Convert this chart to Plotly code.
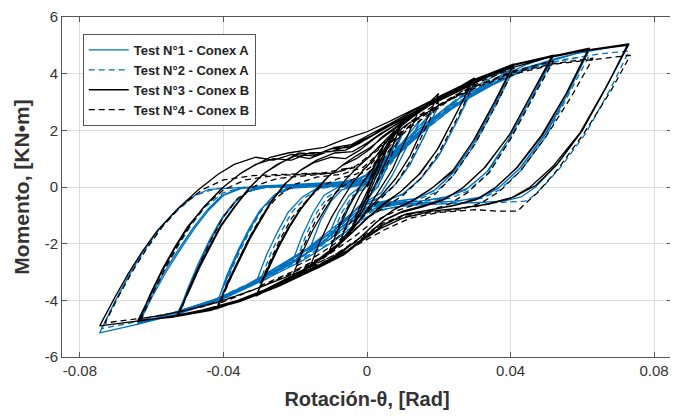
import plotly.graph_objects as go

# ---- data: (rotation [rad], moment [kN·m]) vertices of each hysteresis path ----
T1_path = [  # Test N°1 - Conex A (blue solid)
    (0, 0), (0.003, 0.6), (0.0075, 1.5), (0.004, 0.4), (0.001, -0.3), (-0.003, -0.8), (-0.008, -1.4),
    (-0.005, -0.6), (-0.002, -0.1), (0.002, 0.4), (0.006, 1.1), (0.010, 1.9),
    (0.006, 0.8), (0.003, 0.0), (0.0, -0.4), (-0.004, -0.9), (-0.008, -1.4), (-0.011, -1.8),
    (-0.008, -0.9), (-0.005, -0.3), (-0.002, 0.0), (0.002, 0.3), (0.006, 0.9), (0.010, 1.6), (0.015, 2.4),
    (0.011, 1.4), (0.007, 0.4), (0.004, -0.2), (0.0, -0.5), (-0.004, -0.9), (-0.009, -1.5), (-0.013, -1.9), (-0.016, -2.2),
    (-0.013, -1.2), (-0.010, -0.5), (-0.007, -0.1), (-0.003, 0.05), (0.001, 0.2), (0.006, 0.9), (0.012, 1.8), (0.020, 2.9),
    (0.016, 1.8), (0.012, 0.8), (0.008, 0.1), (0.004, -0.35), (0.0, -0.55), (-0.004, -0.9), (-0.010, -1.5), (-0.016, -2.1), (-0.021, -2.7),
    (-0.018, -1.7), (-0.015, -0.9), (-0.012, -0.3), (-0.008, 0.0), (-0.003, 0.05), (0.001, 0.2), (0.006, 0.8), (0.012, 1.6), (0.020, 2.5), (0.030, 3.6),
    (0.025, 2.3), (0.020, 1.1), (0.015, 0.3), (0.010, -0.25), (0.005, -0.5), (0.0, -0.6), (-0.005, -1.1), (-0.012, -1.8), (-0.019, -2.4), (-0.025, -2.9), (-0.031, -3.4),
    (-0.028, -2.4), (-0.025, -1.6), (-0.022, -0.9), (-0.018, -0.35), (-0.014, -0.05), (-0.008, 0.05), (-0.003, 0.1), (0.001, 0.3), (0.007, 1.0), (0.014, 1.9), (0.022, 2.8), (0.031, 3.6), (0.041, 4.3),
    (0.036, 3.0), (0.030, 1.6), (0.024, 0.5), (0.019, -0.1), (0.014, -0.4), (0.008, -0.5), (0.002, -0.6), (-0.003, -0.9), (-0.009, -1.5), (-0.017, -2.2), (-0.026, -2.9), (-0.034, -3.5), (-0.042, -4.1),
    (-0.0385, -3.05), (-0.0355, -2.2), (-0.0325, -1.45), (-0.0295, -0.8), (-0.0255, -0.25), (-0.021, 0.05), (-0.014, 0.1), (-0.007, 0.15), (-0.001, 0.25), (0.004, 0.7), (0.011, 1.5), (0.019, 2.4), (0.028, 3.2), (0.036, 3.85), (0.0405, 4.2),
    (0.0355, 2.9), (0.0295, 1.5), (0.0235, 0.45), (0.0185, -0.15), (0.0135, -0.42), (0.0075, -0.52), (0.0015, -0.65), (-0.0035, -0.95), (-0.0095, -1.55), (-0.0175, -2.25), (-0.0265, -2.95), (-0.0345, -3.55), (-0.0415, -4.0),
    (-0.039, -3.1), (-0.036, -2.25), (-0.033, -1.5), (-0.030, -0.85), (-0.026, -0.3), (-0.022, -0.05), (-0.015, 0.0), (-0.008, 0.05), (-0.002, 0.1), (0.002, 0.4), (0.009, 1.2), (0.017, 2.1), (0.026, 3.0), (0.036, 3.8), (0.044, 4.3), (0.052, 4.65),
    (0.046, 3.2), (0.040, 1.8), (0.034, 0.6), (0.028, -0.05), (0.022, -0.35), (0.015, -0.5), (0.008, -0.55), (0.002, -0.65), (-0.004, -1.1), (-0.011, -1.8), (-0.020, -2.6), (-0.030, -3.3), (-0.041, -3.95), (-0.053, -4.5),
    (-0.0495, -3.55), (-0.0465, -2.65), (-0.0435, -1.85), (-0.0405, -1.15), (-0.0365, -0.5), (-0.0325, -0.1), (-0.027, 0.05), (-0.019, 0.1), (-0.011, 0.15), (-0.004, 0.2), (0.001, 0.5), (0.007, 1.1), (0.015, 2.0), (0.024, 2.85), (0.034, 3.6), (0.044, 4.15), (0.0515, 4.45),
    (0.0455, 3.1), (0.0395, 1.7), (0.0335, 0.55), (0.0275, -0.1), (0.0215, -0.38), (0.0145, -0.5), (0.0075, -0.58), (0.0015, -0.7), (-0.0045, -1.15), (-0.0115, -1.85), (-0.0205, -2.65), (-0.0305, -3.35), (-0.0415, -4.0), (-0.0525, -4.45),
    (-0.050, -3.6), (-0.047, -2.7), (-0.044, -1.9), (-0.041, -1.2), (-0.037, -0.55), (-0.033, -0.15), (-0.028, 0.0), (-0.020, 0.02), (-0.012, 0.05), (-0.005, 0.1), (0.0, 0.3), (0.006, 0.9), (0.014, 1.8), (0.023, 2.7), (0.033, 3.5), (0.043, 4.1), (0.052, 4.5), (0.062, 4.85),
    (0.056, 3.3), (0.050, 1.9), (0.043, 0.7), (0.037, 0.0), (0.032, -0.35), (0.025, -0.5), (0.017, -0.55), (0.009, -0.6), (0.003, -0.7), (-0.003, -1.1), (-0.010, -1.8), (-0.019, -2.5), (-0.030, -3.25), (-0.042, -3.95), (-0.053, -4.4), (-0.064, -4.85),
    (-0.0605, -3.9), (-0.0565, -3.0), (-0.0525, -2.2), (-0.0485, -1.45), (-0.0445, -0.8), (-0.0405, -0.3), (-0.0355, -0.05), (-0.028, 0.05), (-0.019, 0.08), (-0.011, 0.1), (-0.005, 0.15), (0.0, 0.45), (0.007, 1.2), (0.015, 2.1), (0.024, 3.0), (0.034, 3.7), (0.044, 4.2), (0.053, 4.55), (0.0615, 4.8),
    (0.0555, 3.2), (0.0495, 1.85), (0.0425, 0.65), (0.0365, -0.05), (0.0315, -0.38), (0.0245, -0.5), (0.0165, -0.55), (0.0085, -0.62), (0.0025, -0.75), (-0.0035, -1.15), (-0.0105, -1.85), (-0.0195, -2.55), (-0.0305, -3.3), (-0.0425, -4.0), (-0.0535, -4.45), (-0.0635, -4.8),
    (-0.060, -3.9), (-0.056, -3.0), (-0.052, -2.2), (-0.048, -1.45), (-0.044, -0.8), (-0.040, -0.3), (-0.035, -0.05), (-0.027, 0.0), (-0.018, 0.0), (-0.010, 0.05), (-0.004, 0.1), (0.001, 0.35), (0.008, 1.1), (0.016, 2.0), (0.025, 2.9), (0.035, 3.6), (0.046, 4.25), (0.058, 4.7), (0.073, 5.05),
    (0.067, 3.6), (0.060, 2.0), (0.053, 0.8), (0.047, 0.0), (0.043, -0.35), (0.038, -0.5), (0.030, -0.55), (0.020, -0.6), (0.011, -0.65), (0.004, -0.8), (-0.002, -1.2), (-0.009, -1.9), (-0.018, -2.6), (-0.029, -3.3), (-0.041, -4.0), (-0.053, -4.5), (-0.064, -4.85), (-0.0745, -5.15),
    (-0.0705, -4.1), (-0.0665, -3.15), (-0.0625, -2.3), (-0.058, -1.5), (-0.053, -0.8), (-0.048, -0.3), (-0.044, -0.08), (-0.035, -0.02), (-0.025, 0.02), (-0.015, 0.05), (-0.006, 0.1), (0.0, 0.4),
]

T2_path = [  # Test N°2 - Conex A (blue dashed)
    (0, 0), (0.004, 0.7), (0.010, 1.9), (0.006, 0.8), (0.003, 0.0), (0.0, -0.4), (-0.004, -0.9), (-0.010, -1.8),
    (-0.007, -0.9), (-0.004, -0.3), (0.0, 0.0), (0.004, 0.4), (0.009, 1.2), (0.014, 2.0), (0.020, 2.9),
    (0.016, 1.8), (0.012, 0.8), (0.008, 0.1), (0.004, -0.35), (0.0, -0.6), (-0.005, -1.2), (-0.010, -1.8), (-0.015, -2.3), (-0.020, -2.7),
    (-0.017, -1.7), (-0.014, -0.9), (-0.011, -0.35), (-0.007, -0.05), (-0.002, 0.05), (0.002, 0.3), (0.008, 1.1), (0.015, 2.0), (0.022, 2.8), (0.030, 3.6),
    (0.025, 2.3), (0.020, 1.1), (0.015, 0.3), (0.010, -0.25), (0.005, -0.5), (0.0, -0.65), (-0.006, -1.3), (-0.013, -2.0), (-0.021, -2.7), (-0.030, -3.4),
    (-0.027, -2.4), (-0.024, -1.6), (-0.021, -0.9), (-0.017, -0.35), (-0.013, -0.05), (-0.007, 0.05), (-0.002, 0.1), (0.002, 0.35), (0.009, 1.2), (0.017, 2.1), (0.025, 2.9), (0.033, 3.6), (0.041, 4.2),
    (0.036, 2.9), (0.030, 1.5), (0.024, 0.4), (0.019, -0.2), (0.014, -0.45), (0.008, -0.55), (0.002, -0.65), (-0.004, -1.1), (-0.011, -1.8), (-0.020, -2.5), (-0.030, -3.2), (-0.041, -4.0),
    (-0.038, -3.0), (-0.035, -2.15), (-0.032, -1.4), (-0.029, -0.75), (-0.025, -0.25), (-0.020, 0.0), (-0.013, 0.05), (-0.006, 0.1), (-0.001, 0.2), (0.004, 0.7), (0.012, 1.7), (0.021, 2.6), (0.031, 3.4), (0.041, 4.0), (0.052, 4.5),
    (0.046, 3.1), (0.040, 1.7), (0.034, 0.5), (0.028, -0.15), (0.023, -0.4), (0.016, -0.5), (0.009, -0.55), (0.003, -0.65), (-0.003, -1.1), (-0.010, -1.8), (-0.020, -2.6), (-0.031, -3.3), (-0.042, -3.95), (-0.052, -4.4),
    (-0.049, -3.4), (-0.046, -2.5), (-0.043, -1.7), (-0.040, -1.0), (-0.036, -0.4), (-0.031, -0.05), (-0.024, 0.0), (-0.015, 0.05), (-0.007, 0.1), (-0.001, 0.25), (0.005, 0.9), (0.013, 1.8), (0.022, 2.7), (0.032, 3.5), (0.042, 4.05), (0.052, 4.4), (0.062, 4.65),
    (0.056, 3.2), (0.050, 1.8), (0.043, 0.6), (0.037, -0.1), (0.032, -0.4), (0.025, -0.5), (0.017, -0.55), (0.009, -0.6), (0.003, -0.75), (-0.003, -1.2), (-0.011, -1.9), (-0.021, -2.7), (-0.032, -3.4), (-0.043, -4.0), (-0.053, -4.4), (-0.063, -4.7),
    (-0.0595, -3.75), (-0.056, -2.85), (-0.0525, -2.05), (-0.049, -1.35), (-0.045, -0.7), (-0.040, -0.2), (-0.034, 0.0), (-0.025, 0.05), (-0.016, 0.05), (-0.008, 0.1), (-0.002, 0.25), (0.004, 0.9), (0.012, 1.8), (0.022, 2.75), (0.033, 3.55), (0.044, 4.15), (0.055, 4.5), (0.065, 4.7), (0.073, 4.8),
    (0.068, 3.5), (0.061, 1.9), (0.054, 0.7), (0.049, 0.0), (0.046, -0.35), (0.044, -0.5), (0.036, -0.55), (0.026, -0.55), (0.016, -0.6), (0.008, -0.7), (0.002, -0.9), (-0.004, -1.4), (-0.012, -2.1), (-0.022, -2.8), (-0.034, -3.55), (-0.047, -4.2), (-0.060, -4.65), (-0.074, -5.0),
    (-0.070, -4.0), (-0.066, -3.05), (-0.062, -2.25), (-0.058, -1.5), (-0.053, -0.85), (-0.048, -0.3), (-0.042, -0.05), (-0.032, 0.0), (-0.020, 0.05), (-0.010, 0.1), (-0.003, 0.3),
]

T3_path = [  # Test N°3 - Conex B (black solid)
    (0, 0), (0.002, 0.7), (0.005, 1.6), (0.002, 0.4), (0.0, -0.3), (-0.002, -0.9), (-0.005, -1.7),
    (-0.002, -0.7), (0.001, 0.1), (0.004, 1.0), (0.0075, 2.0),
    (0.004, 0.8), (0.001, -0.1), (-0.002, -0.9), (-0.005, -1.6), (-0.008, -2.1),
    (-0.005, -1.1), (-0.002, -0.3), (0.001, 0.3), (0.004, 1.0), (0.007, 1.7), (0.010, 2.35),
    (0.006, 1.1), (0.002, 0.0), (-0.001, -0.8), (-0.004, -1.4), (-0.008, -2.0), (-0.011, -2.4),
    (-0.008, -1.5), (-0.005, -0.7), (-0.002, 0.0), (0.001, 0.55), (0.003, 0.9), (0.006, 1.6), (0.010, 2.2), (0.015, 2.85),
    (0.011, 1.7), (0.007, 0.6), (0.003, -0.2), (0.0, -0.8), (-0.004, -1.5), (-0.008, -2.0), (-0.012, -2.45), (-0.016, -2.85),
    (-0.013, -1.9), (-0.010, -1.1), (-0.007, -0.45), (-0.004, 0.15), (-0.001, 0.6), (0.002, 1.0), (0.006, 1.7), (0.010, 2.2), (0.015, 2.7), (0.020, 3.3),
    (0.016, 2.2), (0.012, 1.1), (0.008, 0.3), (0.004, -0.3), (0.001, -0.7), (-0.003, -1.3), (-0.008, -2.0), (-0.013, -2.5), (-0.017, -2.85), (-0.021, -3.2),
    (-0.018, -2.3), (-0.015, -1.5), (-0.012, -0.85), (-0.009, -0.25), (-0.006, 0.25), (-0.003, 0.65), (0.0, 1.0), (0.003, 1.4), (0.007, 1.9), (0.013, 2.5), (0.020, 3.1), (0.030, 3.85),
    (0.025, 2.6), (0.020, 1.4), (0.015, 0.5), (0.010, -0.1), (0.005, -0.6), (0.001, -1.0), (-0.004, -1.6), (-0.010, -2.3), (-0.017, -2.9), (-0.024, -3.4), (-0.031, -3.85),
    (-0.0275, -2.9), (-0.0245, -2.1), (-0.0215, -1.4), (-0.0185, -0.8), (-0.0145, -0.15), (-0.0105, 0.4), (-0.0065, 0.8), (-0.003, 1.1), (0.001, 1.4), (0.005, 1.8), (0.011, 2.35), (0.018, 2.95), (0.024, 3.35), (0.0295, 3.75),
    (0.0245, 2.5), (0.0195, 1.3), (0.0145, 0.45), (0.0095, -0.15), (0.0045, -0.6), (0.0, -1.1), (-0.005, -1.7), (-0.011, -2.35), (-0.018, -2.95), (-0.025, -3.4), (-0.0305, -3.75),
    (-0.028, -2.95), (-0.025, -2.15), (-0.022, -1.45), (-0.019, -0.85), (-0.015, -0.2), (-0.011, 0.35), (-0.007, 0.75), (-0.003, 1.0), (0.001, 1.35), (0.004, 1.75), (0.010, 2.3), (0.017, 2.9), (0.024, 3.4), (0.032, 3.9), (0.041, 4.35),
    (0.036, 3.1), (0.030, 1.7), (0.024, 0.6), (0.018, -0.05), (0.013, -0.45), (0.008, -0.75), (0.003, -1.2), (-0.002, -1.8), (-0.008, -2.4), (-0.016, -2.95), (-0.025, -3.5), (-0.034, -3.95), (-0.042, -4.3),
    (-0.0385, -3.35), (-0.0355, -2.55), (-0.0325, -1.8), (-0.0295, -1.15), (-0.0265, -0.5), (-0.0225, 0.15), (-0.0185, 0.6), (-0.014, 0.95), (-0.009, 1.2), (-0.004, 1.25), (0.0, 1.55), (0.004, 1.9), (0.010, 2.35), (0.017, 2.85), (0.025, 3.35), (0.033, 3.85), (0.0405, 4.25),
    (0.0355, 3.0), (0.0295, 1.6), (0.0235, 0.5), (0.0175, -0.1), (0.0125, -0.5), (0.0075, -0.8), (0.0025, -1.25), (-0.0025, -1.85), (-0.009, -2.45), (-0.017, -3.0), (-0.026, -3.55), (-0.035, -4.0), (-0.0415, -4.25),
    (-0.039, -3.4), (-0.036, -2.6), (-0.033, -1.85), (-0.030, -1.2), (-0.027, -0.55), (-0.023, 0.1), (-0.019, 0.55), (-0.015, 0.85), (-0.010, 1.05), (-0.006, 1.0), (-0.002, 1.3), (0.002, 1.7), (0.008, 2.2), (0.015, 2.75), (0.022, 3.25), (0.030, 3.8), (0.041, 4.3), (0.052, 4.65),
    (0.046, 3.3), (0.040, 1.9), (0.033, 0.7), (0.027, 0.0), (0.022, -0.4), (0.016, -0.65), (0.010, -0.85), (0.005, -1.15), (0.0, -1.7), (-0.006, -2.3), (-0.014, -2.85), (-0.024, -3.45), (-0.035, -4.0), (-0.045, -4.35), (-0.053, -4.55),
    (-0.0495, -3.65), (-0.0465, -2.8), (-0.0435, -2.05), (-0.0405, -1.35), (-0.0365, -0.65), (-0.0325, 0.0), (-0.0285, 0.5), (-0.024, 0.85), (-0.019, 1.2), (-0.014, 1.15), (-0.009, 1.4), (-0.004, 1.5), (0.001, 1.8), (0.006, 2.15), (0.013, 2.65), (0.021, 3.2), (0.030, 3.75), (0.040, 4.2), (0.0515, 4.6),
    (0.0455, 3.2), (0.0395, 1.8), (0.0325, 0.65), (0.0265, -0.05), (0.0215, -0.45), (0.0155, -0.7), (0.0095, -0.9), (0.0045, -1.2), (-0.0005, -1.75), (-0.0065, -2.35), (-0.0145, -2.9), (-0.0245, -3.5), (-0.0355, -4.05), (-0.0455, -4.4), (-0.0525, -4.5),
    (-0.050, -3.7), (-0.047, -2.85), (-0.044, -2.1), (-0.041, -1.4), (-0.037, -0.7), (-0.033, -0.05), (-0.029, 0.45), (-0.025, 0.8), (-0.020, 1.1), (-0.016, 1.0), (-0.011, 1.25), (-0.006, 1.3), (-0.002, 1.55), (0.003, 1.95), (0.009, 2.35), (0.016, 2.85), (0.024, 3.4), (0.032, 3.9), (0.041, 4.3), (0.051, 4.6), (0.062, 4.9),
    (0.056, 3.4), (0.049, 1.85), (0.042, 0.7), (0.036, 0.0), (0.031, -0.4), (0.025, -0.62), (0.018, -0.8), (0.011, -0.95), (0.005, -1.3), (0.0, -1.75), (-0.006, -2.35), (-0.013, -2.8), (-0.022, -3.3), (-0.032, -3.85), (-0.043, -4.3), (-0.054, -4.55), (-0.064, -4.75),
    (-0.0605, -3.85), (-0.057, -2.95), (-0.0535, -2.15), (-0.050, -1.45), (-0.0455, -0.7), (-0.0405, -0.05), (-0.0355, 0.45), (-0.0315, 0.75), (-0.027, 1.05), (-0.022, 1.2), (-0.017, 1.3), (-0.012, 1.4), (-0.006, 1.7), (0.0, 1.95), (0.006, 2.3), (0.014, 2.8), (0.022, 3.3), (0.031, 3.8), (0.041, 4.3), (0.051, 4.6), (0.0615, 4.82),
    (0.0555, 3.3), (0.0485, 1.8), (0.0415, 0.65), (0.0355, -0.05), (0.0305, -0.45), (0.0245, -0.65), (0.0175, -0.82), (0.0105, -0.98), (0.0045, -1.35), (-0.0005, -1.8), (-0.0065, -2.4), (-0.0135, -2.85), (-0.0225, -3.35), (-0.0325, -3.9), (-0.0435, -4.35), (-0.0545, -4.6), (-0.0635, -4.7),
    (-0.0605, -3.8), (-0.057, -2.9), (-0.0535, -2.1), (-0.050, -1.4), (-0.045, -0.65), (-0.040, 0.0), (-0.035, 0.5), (-0.031, 0.8), (-0.026, 1.0), (-0.021, 0.95), (-0.016, 1.2), (-0.010, 1.25), (-0.005, 1.45), (0.0, 1.8), (0.006, 2.2), (0.013, 2.7), (0.021, 3.25), (0.030, 3.8), (0.040, 4.3), (0.051, 4.62), (0.062, 4.85), (0.073, 5.05),
    (0.0665, 3.5), (0.0594, 1.92), (0.052, 0.75), (0.0455, 0.0), (0.040, -0.4), (0.034, -0.6), (0.026, -0.75), (0.018, -0.85), (0.010, -1.1), (0.004, -1.45), (-0.002, -1.95), (-0.008, -2.45), (-0.016, -2.9), (-0.026, -3.5), (-0.036, -4.0), (-0.046, -4.35), (-0.056, -4.6), (-0.065, -4.75), (-0.0745, -4.9),
    (-0.0705, -3.95), (-0.0665, -3.05), (-0.0625, -2.25), (-0.0585, -1.55), (-0.053, -0.8), (-0.047, -0.1), (-0.0415, 0.45), (-0.037, 0.8), (-0.031, 1.05), (-0.026, 0.95), (-0.021, 1.15), (-0.015, 1.1), (-0.010, 1.35), (-0.005, 1.4), (0.0, 1.7), (0.004, 2.0), (0.010, 2.4), (0.020, 3.1), (0.030, 3.7), (0.040, 4.2), (0.050, 4.55), (0.060, 4.8), (0.0725, 5.0),
    (0.067, 3.6), (0.060, 2.0), (0.053, 0.8), (0.047, 0.05), (0.041, -0.35), (0.035, -0.55), (0.030, -0.7),
]

T4_path = [  # Test N°4 - Conex B (black dashed)
    (0, 0), (0.004, 0.9), (0.010, 2.0), (0.006, 0.9), (0.002, 0.0), (-0.002, -0.8), (-0.006, -1.5), (-0.010, -2.0),
    (-0.007, -1.1), (-0.004, -0.4), (-0.001, 0.2), (0.002, 0.8), (0.006, 1.5), (0.012, 2.3), (0.020, 3.0),
    (0.016, 2.0), (0.012, 0.9), (0.008, 0.1), (0.004, -0.4), (0.0, -0.9), (-0.005, -1.6), (-0.010, -2.1), (-0.015, -2.5), (-0.020, -2.8),
    (-0.017, -1.9), (-0.014, -1.1), (-0.011, -0.5), (-0.007, 0.0), (-0.003, 0.35), (0.001, 0.7), (0.006, 1.4), (0.012, 2.1), (0.020, 2.8), (0.030, 3.7),
    (0.025, 2.4), (0.020, 1.2), (0.015, 0.3), (0.010, -0.3), (0.005, -0.7), (0.0, -1.1), (-0.006, -1.8), (-0.013, -2.5), (-0.021, -3.0), (-0.030, -3.5),
    (-0.027, -2.6), (-0.024, -1.8), (-0.021, -1.1), (-0.017, -0.5), (-0.013, 0.0), (-0.008, 0.3), (-0.003, 0.45), (0.001, 0.8), (0.007, 1.6), (0.015, 2.5), (0.024, 3.2), (0.033, 3.8), (0.041, 4.2),
    (0.036, 2.9), (0.030, 1.5), (0.024, 0.4), (0.019, -0.25), (0.014, -0.6), (0.008, -0.85), (0.002, -1.2), (-0.004, -1.8), (-0.012, -2.5), (-0.022, -3.1), (-0.032, -3.65), (-0.041, -4.1),
    (-0.038, -3.2), (-0.035, -2.35), (-0.032, -1.6), (-0.029, -0.95), (-0.025, -0.35), (-0.020, 0.1), (-0.014, 0.35), (-0.007, 0.45), (-0.001, 0.7), (0.005, 1.4), (0.013, 2.3), (0.022, 3.0), (0.031, 3.6), (0.041, 4.1), (0.052, 4.45),
    (0.046, 3.1), (0.040, 1.7), (0.034, 0.5), (0.028, -0.2), (0.023, -0.6), (0.017, -0.85), (0.010, -1.0), (0.004, -1.3), (-0.002, -1.8), (-0.009, -2.4), (-0.018, -2.95), (-0.029, -3.5), (-0.040, -4.0), (-0.052, -4.4),
    (-0.049, -3.45), (-0.046, -2.55), (-0.043, -1.75), (-0.040, -1.05), (-0.036, -0.4), (-0.031, 0.05), (-0.025, 0.3), (-0.017, 0.4), (-0.009, 0.5), (-0.003, 0.7), (0.003, 1.3), (0.011, 2.2), (0.020, 2.9), (0.030, 3.55), (0.041, 4.05), (0.052, 4.35), (0.063, 4.55),
    (0.057, 3.2), (0.050, 1.8), (0.043, 0.6), (0.037, -0.15), (0.032, -0.55), (0.026, -0.8), (0.018, -0.9), (0.010, -1.05), (0.004, -1.35), (-0.002, -1.85), (-0.009, -2.4), (-0.019, -3.0), (-0.030, -3.55), (-0.041, -4.05), (-0.052, -4.4), (-0.063, -4.65),
    (-0.0595, -3.7), (-0.056, -2.8), (-0.0525, -2.0), (-0.049, -1.3), (-0.045, -0.65), (-0.040, -0.1), (-0.034, 0.25), (-0.026, 0.4), (-0.017, 0.45), (-0.009, 0.5), (-0.003, 0.75), (0.003, 1.35), (0.011, 2.2), (0.021, 2.95), (0.032, 3.6), (0.043, 4.05), (0.053, 4.35), (0.063, 4.5), (0.0734, 4.65),
    (0.068, 3.4), (0.0605, 1.9), (0.053, 0.6), (0.0475, -0.2), (0.044, -0.6), (0.042, -0.85), (0.036, -0.85), (0.030, -0.8), (0.020, -0.9), (0.012, -1.1), (0.005, -1.5), (-0.002, -2.0), (-0.010, -2.55), (-0.020, -3.05), (-0.032, -3.65), (-0.045, -4.2), (-0.058, -4.55), (-0.073, -4.8),
    (-0.069, -3.8), (-0.065, -2.9), (-0.061, -2.1), (-0.057, -1.4), (-0.052, -0.7), (-0.046, -0.1), (-0.040, 0.25), (-0.032, 0.4), (-0.022, 0.45), (-0.012, 0.5), (-0.004, 0.7),
]

series_names = ["Test N°1 - Conex A", "Test N°2 - Conex A", "Test N°3 - Conex B", "Test N°4 - Conex B"]
series_colors = ["#0072BD", "#0072BD", "#000000", "#000000"]
series_dash = ["solid", "6px,4px", "solid", "6px,4px"]

x_ticks = [-0.08, -0.04, 0, 0.04, 0.08]
x_tick_labels = ["-0.08", "-0.04", "0", "0.04", "0.08"]
y_ticks = [-6, -4, -2, 0, 2, 4, 6]
y_tick_labels = ["-6", "-4", "-2", "0", "2", "4", "6"]

fig = go.Figure()
for path, name, color, dash in zip([T1_path, T2_path, T3_path, T4_path], series_names, series_colors, series_dash):
    rot = [p[0] for p in path]
    mom = [p[1] for p in path]
    fig.add_trace(go.Scatter(x=rot, y=mom, mode="lines", name="<b>" + name + "</b>",
                             line=dict(color=color, width=1.3, dash=dash)))

font_family = "Liberation Sans, Arial, sans-serif"
axis_common = dict(showgrid=True, gridcolor="#dcdcdc", gridwidth=1, zeroline=False,
                   showline=True, linecolor="#555555", linewidth=1, mirror="ticks",
                   ticks="inside", ticklen=5, tickcolor="#555555", automargin=False,
                   tickprefix="<b>", ticksuffix="</b>", ticklabeloverflow="allow",
                   tickfont=dict(family=font_family, size=15, color="#333333"))

# the page body adds an 8 px offset, so the figure is sized/margined to put the plot area at 62..672 x 17..357
fig.update_layout(
    width=670, height=408,
    margin=dict(l=54, r=6, t=9, b=59, autoexpand=False),
    paper_bgcolor="white", plot_bgcolor="white",
    font=dict(family=font_family, color="#333333"),
    showlegend=True,
    legend=dict(x=0.034, y=0.95, xanchor="left", yanchor="top",
                bgcolor="white", bordercolor="#555555", borderwidth=1,
                font=dict(family=font_family, size=13, color="#222222"),
                tracegroupgap=0, itemwidth=40),
    xaxis=dict(range=[-0.085, 0.085], tickvals=x_ticks, ticktext=x_tick_labels,
               title=dict(text="<b>Rotación-θ, [Rad]</b>", font=dict(family=font_family, size=20, color="#333333"), standoff=13),
               **axis_common),
    yaxis=dict(range=[-6, 6], tickvals=y_ticks, ticktext=y_tick_labels,
               title=dict(text="<b>Momento, [KN•m]</b>", font=dict(family=font_family, size=21, color="#333333"), standoff=9),
               **axis_common),
)

fig.write_html("out.html")
